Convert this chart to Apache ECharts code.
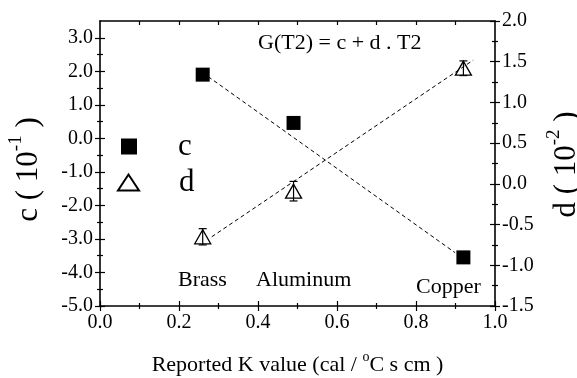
<!DOCTYPE html>
<html><head><meta charset="utf-8">
<script src="https://cdn.jsdelivr.net/npm/echarts@6/dist/echarts.min.js"></script>
<style>html,body{margin:0;padding:0;background:#fff}#c{width:577px;height:378px}</style>
</head><body><div id="c"></div>
<script>
// ---- data ----
const materials = ['Brass', 'Aluminum', 'Copper'];
const kValues = [0.26, 0.49, 0.92];
const cValues = [1.90, 0.46, -3.55];
const dValues = [-0.65, -0.09, 1.42];
const dErrors = [0.10, 0.12, 0.09];
const cFitX = [0.274, 0.899];
const cFitY = [1.84, -3.41];
const dFitX = [0.283, 0.945];
const dFitY = [-0.65, 1.52];
// ---- tick values ----
const xMajorTicks = [0, 0.2, 0.4, 0.6, 0.8, 1.0];
const xMinorTicks = [0.1, 0.3, 0.5, 0.7, 0.9];
const xTopTicks = [0.1, 0.2, 0.3, 0.4, 0.5, 0.6, 0.7, 0.8, 0.9];
const cMajorTicks = [-5, -4, -3, -2, -1, 0, 1, 2, 3];
const cMinorTicks = [-4.5, -3.5, -2.5, -1.5, -0.5, 0.5, 1.5, 2.5];
const dMajorTicks = [-1.5, -1.0, -0.5, 0, 0.5, 1.0, 1.5, 2.0];
const dMinorTicks = [-1.25, -0.75, -0.25, 0.25, 0.75, 1.25, 1.75];

const FONT = 'Liberation Serif';
const BLACK = '#000';

function tickOnly(base, values, inside, len) {
  return Object.assign({}, base, {
    axisLine: { show: false, onZero: false },
    axisLabel: { show: false },
    splitLine: { show: false },
    axisTick: { show: true, inside: inside, length: len, customValues: values, lineStyle: { color: BLACK, width: 1.2 } }
  });
}
function labelAxis(base, ticks, fmt, extra) {
  return Object.assign({}, base, {
    axisLine: { show: true, onZero: false, lineStyle: { color: BLACK, width: 1.6 } },
    axisTick: { show: true, inside: false, length: 5, customValues: ticks, lineStyle: { color: BLACK, width: 1.2 } },
    axisLabel: { show: true, customValues: ticks, formatter: fmt, color: BLACK,
      fontFamily: FONT, fontSize: 20, fontWeight: 'normal', margin: 7 },
    splitLine: { show: false }
  }, extra || {});
}

const xBase = { type: 'value', min: 0, max: 1, position: 'bottom', gridIndex: 0 };
const xTop = { type: 'value', min: 0, max: 1, position: 'top', gridIndex: 0 };
const cBase = { type: 'value', min: -5, max: 3.5, position: 'left', gridIndex: 0 };
const dBase = { type: 'value', min: -1.5, max: 2.0, position: 'right', gridIndex: 0 };

const xAxes = [
  labelAxis(xBase, xMajorTicks, v => v.toFixed(1), {
    name: 'Reported K value (cal / {sup|o}C s cm )',
    nameLocation: 'middle', nameGap: 44,
    nameTextStyle: { color: BLACK, fontFamily: FONT, fontSize: 22, lineHeight: 30,
      rich: { sup: { fontFamily: FONT, fontSize: 14, verticalAlign: 'top', lineHeight: 14, color: BLACK } } }
  }),
  tickOnly(xBase, xMajorTicks, true, 5),
  tickOnly(xBase, xMinorTicks, true, 3),
  tickOnly(xBase, xMinorTicks, false, 3),
  Object.assign({}, xTop, {
    axisLine: { show: true, onZero: false, lineStyle: { color: BLACK, width: 1.6 } },
    axisLabel: { show: false }, splitLine: { show: false },
    axisTick: { show: true, inside: true, length: 4, customValues: xTopTicks, lineStyle: { color: BLACK, width: 1.2 } }
  })
];

const yAxes = [
  labelAxis(cBase, cMajorTicks, v => v.toFixed(1), {
    name: 'c ( 10{sup|-1} )', nameLocation: 'middle', nameRotate: 90, nameGap: 47,
    nameTextStyle: { color: BLACK, fontFamily: FONT, fontSize: 31, lineHeight: 44, padding: [0, 12, 0, 0],
      rich: { sup: { fontFamily: FONT, fontSize: 19, verticalAlign: 'top', lineHeight: 19, color: BLACK } } }
  }),
  tickOnly(cBase, cMajorTicks, true, 5),
  labelAxis(dBase, dMajorTicks, v => v.toFixed(1), {
    name: 'd ( 10{sup|-2} )', nameLocation: 'middle', nameRotate: 90, nameGap: 48,
    nameTextStyle: { color: BLACK, fontFamily: FONT, fontSize: 31, lineHeight: 44, padding: [0, 2, 0, 0],
      rich: { sup: { fontFamily: FONT, fontSize: 19, verticalAlign: 'top', lineHeight: 19, color: BLACK } } }
  }),
  tickOnly(dBase, dMajorTicks, true, 5),
  tickOnly(cBase, cMinorTicks, true, 3),
  tickOnly(cBase, cMinorTicks, false, 3),
  tickOnly(dBase, dMinorTicks, true, 3),
  tickOnly(dBase, dMinorTicks, false, 3)
];

const cPoints = kValues.map((k, i) => [k, cValues[i]]);
const dPoints = kValues.map((k, i) => [k, dValues[i]]);
const dErrData = kValues.map((k, i) => [k, dValues[i] - dErrors[i], dValues[i] + dErrors[i]]);
const cFit = cFitX.map((x, i) => [x, cFitY[i]]);
const dFit = dFitX.map((x, i) => [x, dFitY[i]]);

const chart = echarts.init(document.getElementById('c'), null, { renderer: 'canvas' });
chart.setOption({
  backgroundColor: '#fff',
  animation: false,
  textStyle: { fontFamily: FONT, color: BLACK },
  grid: { left: 100, right: 82, top: 21, bottom: 72, containLabel: false, outerBoundsMode: 'none' },
  xAxis: xAxes,
  yAxis: yAxes,
  legend: [
    { data: ['c'], orient: 'vertical', left: 121, top: 131, padding: 0,
      itemWidth: 16, itemHeight: 16,
      textStyle: { color: BLACK, fontFamily: FONT, fontSize: 31, padding: [0, 0, 0, 36] } },
    { data: ['d'], orient: 'vertical', left: 117, top: 167, padding: 0,
      itemWidth: 21, itemHeight: 16,
      textStyle: { color: BLACK, fontFamily: FONT, fontSize: 31, padding: [0, 0, 0, 35] } }
  ],
  series: [
    { name: 'c fit', type: 'line', xAxisIndex: 0, yAxisIndex: 0, data: cFit, symbol: 'none',
      lineStyle: { color: BLACK, width: 1, type: [4, 3] }, silent: true },
    { name: 'd fit', type: 'line', xAxisIndex: 0, yAxisIndex: 2, data: dFit, symbol: 'none',
      lineStyle: { color: BLACK, width: 1, type: [4, 3] }, silent: true },
    { name: 'd err', type: 'custom', xAxisIndex: 0, yAxisIndex: 2, data: dErrData,
      renderItem: function (params, api) {
        const x = api.coord([api.value(0), api.value(1)])[0];
        const lo = api.coord([api.value(0), api.value(1)])[1];
        const hi = api.coord([api.value(0), api.value(2)])[1];
        const st = { stroke: BLACK, lineWidth: 1.2 };
        return { type: 'group', children: [
          { type: 'line', shape: { x1: x, y1: lo, x2: x, y2: hi }, style: st },
          { type: 'line', shape: { x1: x - 4, y1: lo, x2: x + 4, y2: lo }, style: st },
          { type: 'line', shape: { x1: x - 4, y1: hi, x2: x + 4, y2: hi }, style: st }
        ] };
      }, z: 3 },
    { name: 'c', type: 'scatter', xAxisIndex: 0, yAxisIndex: 0, data: cPoints,
      symbol: 'rect', symbolSize: 14, itemStyle: { color: BLACK, opacity: 1 }, z: 4 },
    { name: 'd', type: 'scatter', xAxisIndex: 0, yAxisIndex: 2, data: dPoints,
      symbol: 'triangle', symbolSize: [16, 14],
      itemStyle: { color: 'rgba(255,255,255,0)', borderColor: BLACK, borderWidth: 1.3, opacity: 1 }, z: 4 }
  ],
  graphic: [
    { type: 'text', left: 258, top: 32, style: { text: 'G(T2) = c + d . T2', fill: BLACK, font: '22px "Liberation Serif"' } },
    { type: 'text', left: 178, top: 269, style: { text: materials[0], fill: BLACK, font: '22px "Liberation Serif"' } },
    { type: 'text', left: 256, top: 269, style: { text: materials[1], fill: BLACK, font: '22px "Liberation Serif"' } },
    { type: 'text', left: 416, top: 276, style: { text: materials[2], fill: BLACK, font: '22px "Liberation Serif"' } }
  ]
});
</script>
</body></html>
